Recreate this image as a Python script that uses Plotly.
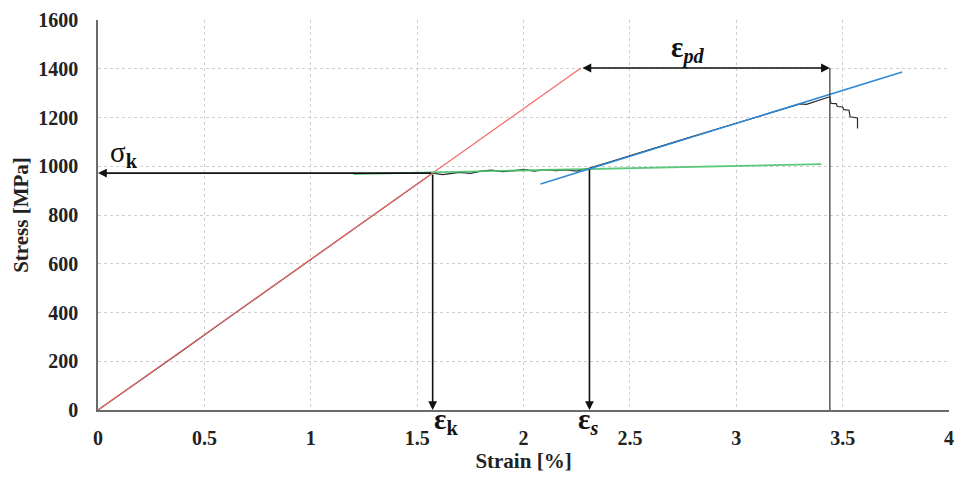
import plotly.graph_objects as go

# ---- data ----
strain_data = [0, 0.2, 0.4, 0.6, 0.8, 1.0, 1.2, 1.4, 1.573, 1.62, 1.66, 1.7, 1.75, 1.8, 1.85, 1.9,
               1.95, 2.0, 2.05, 2.1, 2.15, 2.2, 2.25, 2.31,
               2.4, 2.5, 2.6, 2.7, 2.8, 2.9, 3.0, 3.1, 3.2, 3.3, 3.33, 3.36, 3.40, 3.44,
               3.445, 3.47, 3.475, 3.50, 3.505, 3.53, 3.535, 3.57, 3.57]
stress_data = [0, 122, 245, 370, 493, 617, 740, 865, 972, 966, 970, 975, 971, 980, 984, 978,
               981, 987, 980, 986, 982, 985, 980, 993,
               1016, 1042, 1070, 1097, 1124, 1151, 1178, 1205, 1232, 1256, 1254, 1263, 1273, 1285,
               1258, 1257, 1245, 1243, 1232, 1230, 1203, 1198, 1155]

elastic_x = [0, 2.27]
elastic_y = [0, 1403]
plateau_x = [1.2, 3.40]
plateau_y = [968, 1009]
harden_x = [2.08, 3.78]
harden_y = [927, 1387]

eps_k = 1.573
sigma_k = 972
eps_s = 2.31
sigma_s = 993
eps_pd_start = 2.27
eps_pd_end = 3.44
eps_pd_level = 1403

x_ticks = [0, 0.5, 1, 1.5, 2, 2.5, 3, 3.5, 4]
x_tick_labels = ["0", "0.5", "1", "1.5", "2", "2.5", "3", "3.5", "4"]
y_ticks = [0, 200, 400, 600, 800, 1000, 1200, 1400, 1600]

SERIF = "Liberation Serif"

fig = go.Figure()
fig.add_trace(go.Scatter(x=strain_data, y=stress_data, mode="lines",
                         line=dict(color="#2a2a2a", width=1.2), showlegend=False))
fig.add_trace(go.Scatter(x=elastic_x, y=elastic_y, mode="lines",
                         line=dict(color="#F26B6B", width=1.2), showlegend=False))
fig.add_trace(go.Scatter(x=plateau_x, y=plateau_y, mode="lines",
                         line=dict(color="#4CC46E", width=1.8, ), opacity=0.9, showlegend=False))
fig.add_trace(go.Scatter(x=harden_x, y=harden_y, mode="lines",
                         line=dict(color="#2E88D8", width=1.5), showlegend=False))

# vertical marker at eps_pd end
fig.add_shape(type="line", x0=eps_pd_end, x1=eps_pd_end, y0=0, y1=eps_pd_level,
              line=dict(color="#444444", width=1.3), layer="above")

arrow_common = dict(axref="x", ayref="y", xref="x", yref="y", text="", showarrow=True,
                    arrowhead=2, arrowsize=1.1, arrowwidth=1.6, arrowcolor="#111111")
fig.add_annotation(x=0, y=sigma_k, ax=eps_k, ay=sigma_k, **arrow_common)
fig.add_annotation(x=eps_k, y=0, ax=eps_k, ay=sigma_k, **arrow_common)
fig.add_annotation(x=eps_s, y=0, ax=eps_s, ay=sigma_s, **arrow_common)
fig.add_annotation(x=eps_pd_end, y=eps_pd_level, ax=eps_pd_start, ay=eps_pd_level,
                   arrowside="end+start", **arrow_common)

# labels
fig.add_annotation(x=0.12, y=1052, xref="x", yref="y", showarrow=False,
                   text="σ<sub><b>k</b></sub>", font=dict(family=SERIF, size=29, color="#111"))
fig.add_annotation(x=1.635, y=-0.08, xref="x", yref="paper", showarrow=False,
                   text="<b>ε</b><sub><b>k</b></sub>", font=dict(family=SERIF, size=29, color="#111"))
fig.add_annotation(x=2.305, y=-0.08, xref="x", yref="paper", showarrow=False,
                   text="<b>ε</b><sub><b><i>s</i></b></sub>", font=dict(family=SERIF, size=29, color="#111"))
fig.add_annotation(x=2.775, y=1480, xref="x", yref="y", showarrow=False,
                   text="<b>ε</b><sub><b><i>pd</i></b></sub>", font=dict(family=SERIF, size=29, color="#111"))

fig.update_layout(
    width=955, height=477,
    margin=dict(l=98, r=6, t=20, b=67),
    plot_bgcolor="white", paper_bgcolor="white",
    font=dict(family=SERIF, color="#222"),
)
fig.update_xaxes(range=[0, 4], tickvals=x_ticks, ticktext=x_tick_labels, automargin=False,
                 showgrid=True, gridcolor="#cfcfcf", griddash="dot", gridwidth=1,
                 showline=True, linecolor="#6a6a6a", linewidth=1.5,
                 zeroline=False, ticks="", ticklabelstandoff=9,
                 tickfont=dict(family=SERIF, size=20, color="#222", weight="bold"),
                 title=dict(text="Strain [%]", standoff=5,
                            font=dict(family=SERIF, size=21, color="#222", weight="bold")))
fig.update_yaxes(range=[0, 1600], tickvals=y_ticks, automargin=False,
                 showgrid=True, gridcolor="#cfcfcf", griddash="dot", gridwidth=1,
                 showline=True, linecolor="#6a6a6a", linewidth=1.5,
                 zeroline=False, ticks="", ticklabelstandoff=14,
                 tickfont=dict(family=SERIF, size=20, color="#222", weight="bold"),
                 title=dict(text="Stress [MPa]", standoff=4,
                            font=dict(family=SERIF, size=21, color="#222", weight="bold")))

fig.write_html("out.html")
